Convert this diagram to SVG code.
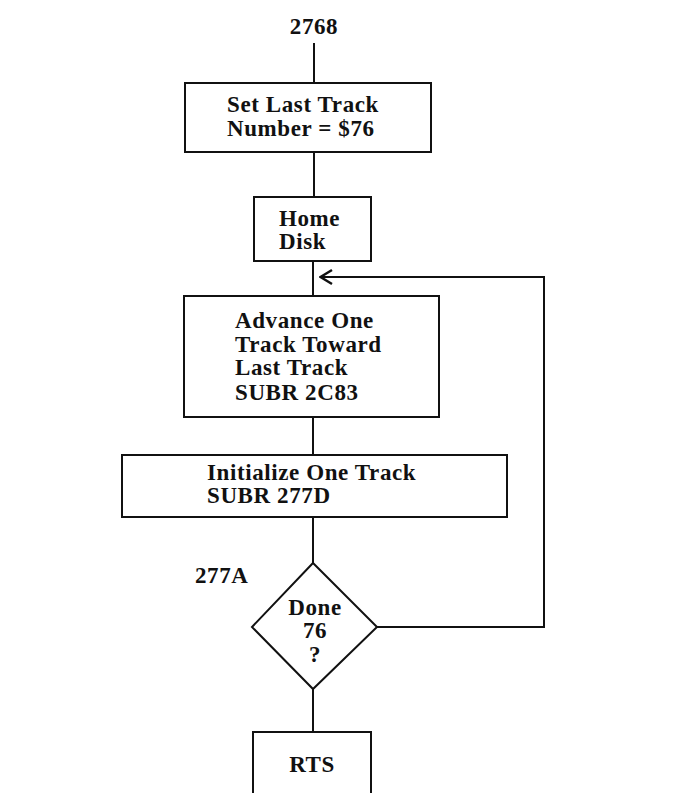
<svg xmlns="http://www.w3.org/2000/svg" width="683" height="793" viewBox="0 0 683 793">
<style>
.n{fill:#fff;stroke:#111;stroke-width:2}
.c{fill:none;stroke:#111;stroke-width:2}
text{font-family:"Liberation Serif","DejaVu Serif",serif;font-weight:bold;font-size:23px;letter-spacing:0.6px;fill:#111}
</style>
<defs>
<marker id="ah" viewBox="0 0 15 18" refX="14" refY="9" markerWidth="15" markerHeight="18" markerUnits="userSpaceOnUse" orient="auto">
<path d="M2,2 L13.5,9 L2,16" fill="none" stroke="#111" stroke-width="2.5"/>
</marker>
</defs>
<rect width="683" height="793" fill="#fff"/>
<g id="connectors">
<line class="c" x1="314" y1="43" x2="314" y2="83"/>
<line class="c" x1="314" y1="152" x2="314" y2="197"/>
<line class="c" x1="313" y1="261" x2="313" y2="296"/>
<line class="c" x1="313" y1="417" x2="313" y2="455"/>
<line class="c" x1="313" y1="517" x2="313" y2="563"/>
<line class="c" x1="313" y1="689" x2="313" y2="732"/>
<polyline class="c" points="377,627 544,627 544,277 320,277" marker-end="url(#ah)"/>
</g>
<g id="label-2768"><text x="314" y="34" text-anchor="middle">2768</text></g>
<g id="n1">
<rect class="n" x="185" y="83" width="246" height="69"/>
<text x="227" y="112">Set Last Track</text>
<text x="227" y="136">Number = $76</text>
</g>
<g id="n2">
<rect class="n" x="254" y="197" width="117" height="64"/>
<text x="279" y="226">Home</text>
<text x="279" y="249">Disk</text>
</g>
<g id="n3">
<rect class="n" x="184" y="296" width="255" height="121"/>
<text x="235" y="328">Advance One</text>
<text x="235" y="352">Track Toward</text>
<text x="235" y="375">Last Track</text>
<text x="235" y="400">SUBR 2C83</text>
</g>
<g id="n4">
<rect class="n" x="122" y="455" width="385" height="62"/>
<text x="207" y="480">Initialize One Track</text>
<text x="207" y="503">SUBR 277D</text>
</g>
<g id="label-277A"><text x="195" y="583">277A</text></g>
<g id="n5">
<polygon class="n" points="313,563 377,627 313,689 252,627"/>
<text x="315" y="615" text-anchor="middle">Done</text>
<text x="315" y="638" text-anchor="middle">76</text>
<text x="315" y="662" text-anchor="middle">?</text>
</g>
<g id="n6">
<rect class="n" x="253" y="732" width="118" height="70"/>
<text x="312" y="772" text-anchor="middle">RTS</text>
</g>
</svg>
